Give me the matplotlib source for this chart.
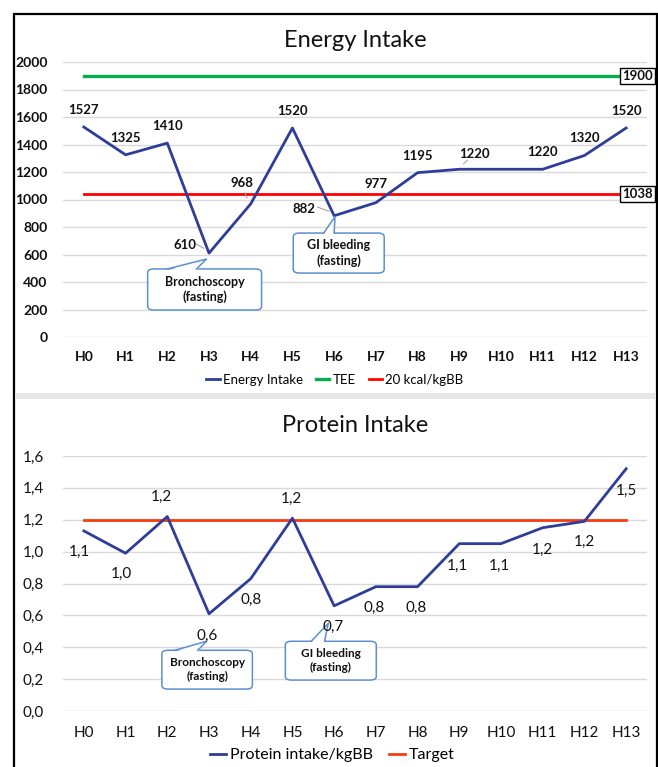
import matplotlib
matplotlib.use("Agg")
import matplotlib.pyplot as plt
from matplotlib.patches import FancyBboxPatch, Polygon, Rectangle
from matplotlib.lines import Line2D

plt.rcParams['font.family'] = ['Lato', 'DejaVu Sans']

categories = ["H0", "H1", "H2", "H3", "H4", "H5", "H6", "H7", "H8", "H9", "H10", "H11", "H12", "H13"]
energy_intake = [1527, 1325, 1410, 610, 968, 1520, 882, 977, 1195, 1220, 1220, 1220, 1320, 1520]
energy_labels = ["1527", "1325", "1410", "610", "968", "1520", "882", "977", "1195", "1220", "", "1220", "1320", "1520"]
tee = 1900
kcal20 = 1038
energy_ticks = [0, 200, 400, 600, 800, 1000, 1200, 1400, 1600, 1800, 2000]

protein_intake = [1.13, 0.99, 1.22, 0.61, 0.83, 1.21, 0.66, 0.78, 0.78, 1.05, 1.05, 1.15, 1.19, 1.52]
protein_labels = ["1,1", "1,0", "1,2", "0,6", "0,8", "1,2", "0,7", "0,8", "0,8", "1,1", "1,1", "1,2", "1,2", "1,5"]
protein_target = 1.2
protein_ticks = [0.0, 0.2, 0.4, 0.6, 0.8, 1.0, 1.2, 1.4, 1.6]

BLUE = "#2E3D98"
GREEN = "#00B050"
RED = "#FF0000"
RED2 = "#F83A10"
GRID = "#D9D9D9"
CALL = "#5B8FD0"

W, H = 658, 767
fig = plt.figure(figsize=(W / 100, H / 100), dpi=100)
fig.patch.set_facecolor("white")

def fx(px):
    return px / W

def fy(py):
    return 1 - py / H

# outer frame and separator
fig.patches.append(Rectangle((fx(14), fy(770)), fx(657) - fx(14), fy(14) - fy(770),
                             transform=fig.transFigure, fill=False, edgecolor="black", lw=1.6))
fig.patches.append(Rectangle((fx(15), fy(399)), fx(656) - fx(15), fy(393) - fy(399),
                             transform=fig.transFigure, facecolor="#E6E6E6", edgecolor="none"))

x = list(range(len(categories)))

def style_axes(ax, yticks, ylim, fmt, fs, ypad, xpad):
    ax.set_xlim(-0.5, len(categories) - 0.5)
    ax.set_ylim(*ylim)
    ax.set_yticks(yticks)
    ax.set_yticklabels([fmt(v) for v in yticks], fontsize=fs, color="#111111")
    ax.set_xticks(x)
    ax.set_xticklabels(categories, fontsize=fs, color="#111111")
    ax.tick_params(axis="both", length=0)
    ax.tick_params(axis="y", pad=ypad)
    ax.tick_params(axis="x", pad=xpad)
    for s in ax.spines.values():
        s.set_visible(False)
    ax.grid(axis="y", color=GRID, lw=1.0)
    ax.set_axisbelow(True)
    ax.patch.set_alpha(0)

def callout(ax, box, base, tip, text, fs):
    (x0, x1, y0, y1) = box
    bx = FancyBboxPatch((x0, y0), x1 - x0, y1 - y0,
                        boxstyle="round,pad=0,rounding_size=0.15",
                        mutation_aspect=(ax.get_ylim()[1] - ax.get_ylim()[0]) / 14 * 1.3,
                        facecolor="white", edgecolor=CALL, lw=1.1, zorder=5)
    ax.add_patch(bx)
    eps = (y1 - y0) * 0.04
    poly = Polygon([(base[0], y1 - eps), tip, (base[1], y1 - eps)], closed=True,
                   facecolor="white", edgecolor="none", zorder=6)
    ax.add_patch(poly)
    ax.plot([base[0], tip[0], base[1]], [y1, tip[1], y1], color=CALL, lw=1.1, zorder=7)
    ax.text((x0 + x1) / 2, (y0 + y1) / 2, text, ha="center", va="center",
            fontsize=fs, fontweight="bold", color="#111111", zorder=8, linespacing=1.3)

# ---------------- Energy Intake ----------------
ax1 = fig.add_axes([fx(63), fy(337), fx(647) - fx(63), fy(62) - fy(337)])
style_axes(ax1, energy_ticks, (0, 2000), lambda v: f"{v}", 10, 11, 10)
for lab in ax1.get_xticklabels() + ax1.get_yticklabels():
    lab.set_fontweight("bold")
ax1.plot(x, [tee] * len(x), color=GREEN, lw=2.4, label="TEE", zorder=3)
ax1.plot(x, [kcal20] * len(x), color=RED, lw=2.0, label="20 kcal/kgBB", zorder=3)
ax1.plot(x, energy_intake, color=BLUE, lw=2.0, label="Energy Intake", zorder=4)

# data label offsets (points)
e_off = [(0, 8), (0, 8), (0, 8), (-17, 6), (-6, 11), (0, 8), (-22, 5), (0, 9),
         (0, 8), (11, 7), (0, 8), (0, 8), (0, 8), (0, 8)]
leaders = {3, 4, 6, 9}
for i, (v, lab, off) in enumerate(zip(energy_intake, energy_labels, e_off)):
    if not lab:
        continue
    ax1.annotate(lab, (i, v), xytext=off, textcoords="offset points",
                 ha="center", va="bottom" if off[1] > 6 else "center",
                 fontsize=9.5, fontweight="bold", color="#111111", zorder=9)
    if i in leaders:
        ax1.annotate("", (i - 0.06 if off[0] < 0 else i + 0.05, v + 25),
                     xytext=(off[0] * 0.55, off[1] * 0.5 + 2),
                     textcoords="offset points",
                     arrowprops=dict(arrowstyle="-", color="#999999", lw=0.7))

for val in (tee, kcal20):
    ax1.annotate(str(val), (13, val), xytext=(-3, 0), textcoords="offset points",
                 ha="left", va="center", fontsize=9.5, fontweight="bold", color="#111111",
                 bbox=dict(boxstyle="square,pad=0.15", facecolor="white", edgecolor="black", lw=1.0),
                 zorder=10, annotation_clip=False)

ax1.set_title("Energy Intake", fontsize=17, color="#111111", pad=11)

callout(ax1, (1.53, 4.26, 196, 495), (2.0, 2.7), (2.94, 567), "Bronchoscopy\n(fasting)", 9)
callout(ax1, (5.02, 7.2, 465, 756), (5.75, 6.0), (6.02, 875), "GI bleeding\n(fasting)", 9)

h1 = [Line2D([0], [0], color=BLUE, lw=2.0), Line2D([0], [0], color=GREEN, lw=2.4),
      Line2D([0], [0], color=RED, lw=2.0)]
fig.legend(h1, ["Energy Intake", "TEE", "20 kcal/kgBB"], loc="center",
           bbox_to_anchor=(fx(335), fy(380)), ncol=3, frameon=False, fontsize=9.5,
           handlelength=1.0, handletextpad=0.25, columnspacing=1.0)

# ---------------- Protein Intake ----------------
ax2 = fig.add_axes([fx(63), fy(711), fx(647) - fx(63), fy(456) - fy(711)])
style_axes(ax2, protein_ticks, (0, 1.6), lambda v: f"{v:.1f}".replace(".", ","), 11, 14, 11)
ax2.plot(x, [protein_target] * len(x), color=RED2, lw=2.0, label="Target", zorder=3)
ax2.plot(x, protein_intake, color=BLUE, lw=2.0, label="Protein intake/kgBB", zorder=4)

p_off = [(-3, -10), (-3, -10), (-4, 9), (-1, -11), (0, -10), (-1, 9), (-1, -10), (-1, -10),
         (-1, -10), (-1, -11), (-1, -11), (0, -11), (0, -10), (0, -11)]
for i, (v, lab, off) in enumerate(zip(protein_intake, protein_labels, p_off)):
    ax2.annotate(lab, (i, v), xytext=off, textcoords="offset points",
                 ha="center", va="bottom" if off[1] > 0 else "top",
                 fontsize=11, color="#111111", zorder=9)

ax2.set_title("Protein Intake", fontsize=17, color="#111111", pad=17)

callout(ax2, (1.87, 4.04, 0.1375, 0.381), (2.18, 2.73), (2.94, 0.4375), "Bronchoscopy\n(fasting)", 8.5)
callout(ax2, (4.83, 7.01, 0.194, 0.4375), (5.45, 5.77), (5.86, 0.55), "GI bleeding\n(fasting)", 8.5)

h2 = [Line2D([0], [0], color=BLUE, lw=2.0), Line2D([0], [0], color=RED2, lw=2.0)]
fig.legend(h2, ["Protein intake/kgBB", "Target"], loc="center",
           bbox_to_anchor=(fx(332), fy(755)), ncol=2, frameon=False, fontsize=11.5,
           handlelength=1.0, handletextpad=0.25, columnspacing=1.0)

fig.savefig("out.png", dpi=100, facecolor="white")
